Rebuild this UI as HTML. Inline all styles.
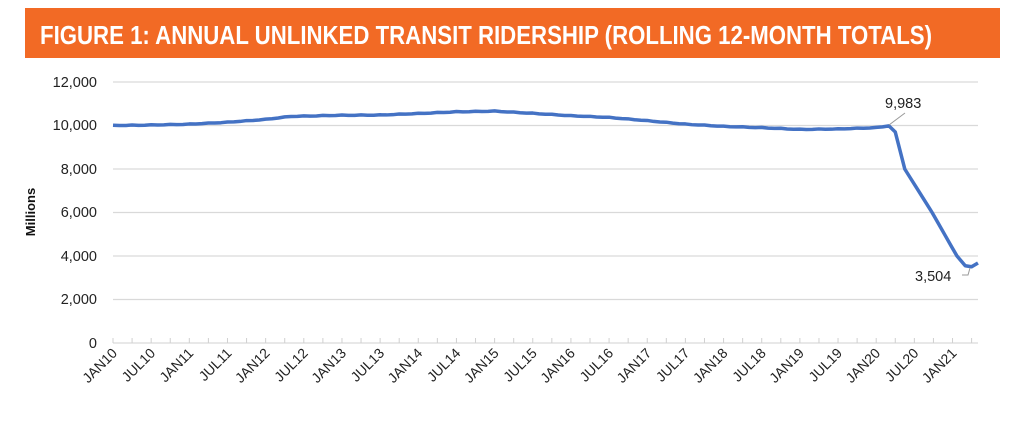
<!DOCTYPE html>
<html><head><meta charset="utf-8"><style>
body{margin:0;background:#fff;width:1024px;height:431px;overflow:hidden;font-family:"Liberation Sans",sans-serif}
</style></head><body>
<svg width="1024" height="431" xmlns="http://www.w3.org/2000/svg" font-family="Liberation Sans, sans-serif">
<rect x="25" y="8" width="975" height="50" fill="#F26A25"/>
<text x="40" y="44" font-size="26" font-weight="bold" fill="#fff" textLength="892" lengthAdjust="spacingAndGlyphs">FIGURE 1:  ANNUAL UNLINKED TRANSIT RIDERSHIP (ROLLING 12-MONTH TOTALS)</text>
<g stroke="#d9d9d9" stroke-width="1.2">
<line x1="113" x2="978" y1="82" y2="82"/><line x1="113" x2="978" y1="125.5" y2="125.5"/><line x1="113" x2="978" y1="169" y2="169"/><line x1="113" x2="978" y1="212.5" y2="212.5"/><line x1="113" x2="978" y1="256" y2="256"/><line x1="113" x2="978" y1="299.5" y2="299.5"/><line x1="113" x2="978" y1="343" y2="343"/>
</g>
<g font-size="14.5" fill="#222" text-anchor="end">
<text x="97" y="87">12,000</text><text x="97" y="130">10,000</text><text x="97" y="174">8,000</text><text x="97" y="217">6,000</text><text x="97" y="261">4,000</text><text x="97" y="304">2,000</text><text x="97" y="348">0</text>
</g>
<text transform="translate(35,212) rotate(-90)" font-size="13" font-weight="bold" text-anchor="middle" fill="#111">Millions</text>
<g id="ticks" stroke="#d0d0d0" stroke-width="1"></g>
<g id="xl" font-size="14" fill="#222" text-anchor="end"></g>
<polyline id="ln" fill="none" stroke="#4472C4" stroke-width="3.5" stroke-linejoin="round"/>
<line x1="889" y1="125" x2="905" y2="113" stroke="#999"/>
<text x="885" y="108" font-size="14.5" fill="#222">9,983</text>
<polyline points="962,275 968,275 970,268" fill="none" stroke="#999"/>
<text x="915" y="281" font-size="14.5" fill="#222">3,504</text>
</svg>
<script>
var px=6.36,x0=113;function X(m){return x0+m*px}function Y(v){return 343-v*261/12000}
var t='',l='';
for(var m=0;m<=136;m+=3){t+='<line x1="'+X(m)+'" x2="'+X(m)+'" y1="343" y2="338"/>';}
var yrs=['10','11','12','13','14','15','16','17','18','19','20','21'];
for(var m=0;m<=132;m+=6){var lab=(m%12==0?'JAN':'JUL')+yrs[Math.floor(m/12)];var x=X(m)+5;
l+='<text transform="translate('+x+',354) rotate(-45)">'+lab+'</text>';}
document.getElementById('ticks').innerHTML=t;document.getElementById('xl').innerHTML=l;
var k=[[0,10000],[6,10020],[12,10060],[18,10150],[24,10280],[28,10420],[36,10470],[42,10480],[48,10550],[54,10630],[60,10660],[66,10560],[72,10450],[78,10370],[84,10220],[90,10060],[96,9960],[102,9900],[108,9820],[114,9840],[120,9900],[122,9983],[123,9700],[124.5,8000],[128.8,6000],[132.7,4000],[134,3550],[135,3504],[136,3680]];
var p=[];
for(var i=0;i<k.length-1;i++){var a=k[i],b=k[i+1];if(b[0]-a[0]>1.5){for(var m=a[0];m<b[0];m++){var f=(m-a[0])/(b[0]-a[0]);var v=a[1]+(b[1]-a[1])*f+(m%3==0?12:-6);p.push(X(m)+','+Y(v));}}else p.push(X(a[0])+','+Y(a[1]));}
p.push(X(136)+','+Y(3680));
document.getElementById('ln').setAttribute('points',p.join(' '));
</script>
</body></html>
